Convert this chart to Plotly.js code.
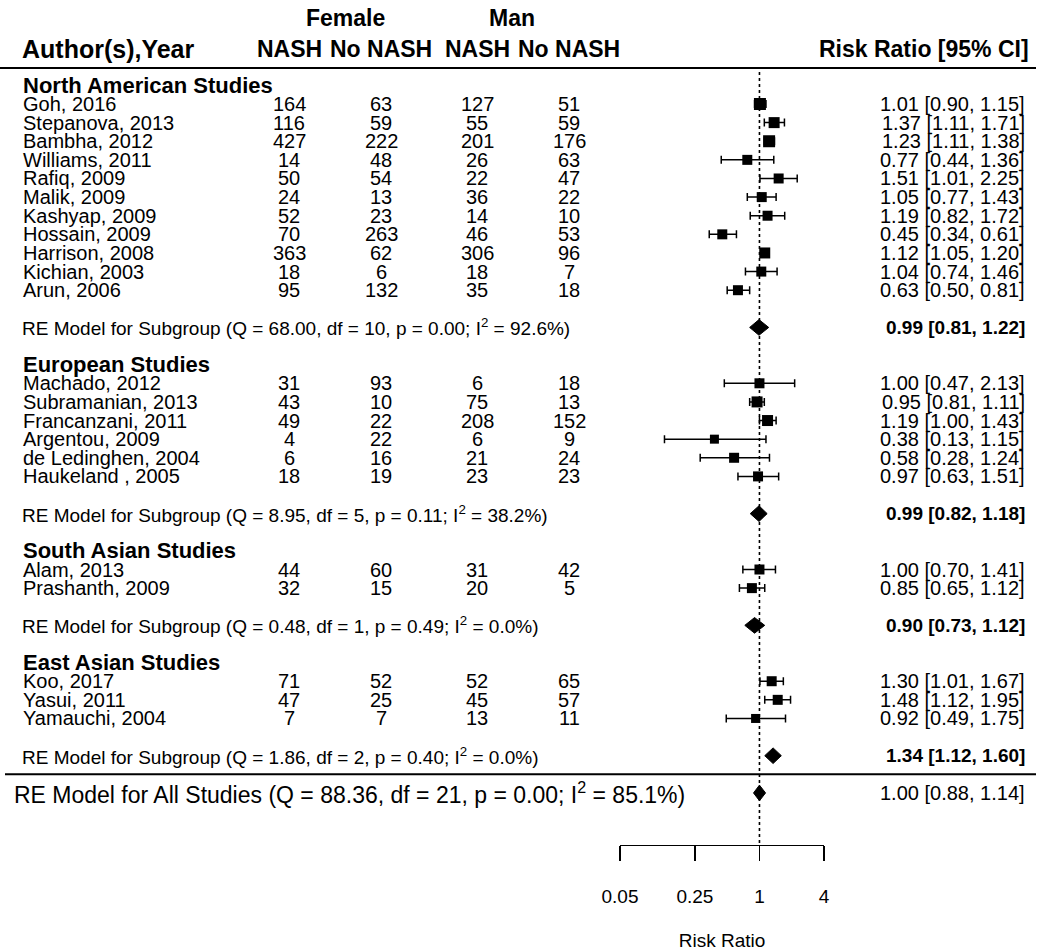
<!DOCTYPE html>
<html>
<head>
<meta charset="utf-8">
<script src="https://cdn.plot.ly/plotly-3.0.1.min.js"></script>
<style>html,body{margin:0;padding:0;background:#fff;}#chart{width:1050px;height:951px;}</style>
</head>
<body>
<div id="chart"></div>
<script>
// ---------- data ----------
const groupNames = ['North American Studies', 'European Studies', 'South Asian Studies', 'East Asian Studies'];
const groupSizes = [11, 6, 2, 3];
const studyNames = ['Goh, 2016', 'Stepanova, 2013', 'Bambha, 2012', 'Williams, 2011', 'Rafiq, 2009', 'Malik, 2009',
  'Kashyap, 2009', 'Hossain, 2009', 'Harrison, 2008', 'Kichian, 2003', 'Arun, 2006',
  'Machado, 2012', 'Subramanian, 2013', 'Francanzani, 2011', 'Argentou, 2009', 'de Ledinghen, 2004', 'Haukeland , 2005',
  'Alam, 2013', 'Prashanth, 2009',
  'Koo, 2017', 'Yasui, 2011', 'Yamauchi, 2004'];
const femaleNash   = [164, 116, 427, 14, 50, 24, 52, 70, 363, 18, 95, 31, 43, 49, 4, 6, 18, 44, 32, 71, 47, 7];
const femaleNoNash = [63, 59, 222, 48, 54, 13, 23, 263, 62, 6, 132, 93, 10, 22, 22, 16, 19, 60, 15, 52, 25, 7];
const manNash      = [127, 55, 201, 26, 22, 36, 14, 46, 306, 18, 35, 6, 75, 208, 6, 21, 23, 31, 20, 52, 45, 13];
const manNoNash    = [51, 59, 176, 63, 47, 22, 10, 53, 96, 7, 18, 18, 13, 152, 9, 24, 23, 42, 5, 65, 57, 11];
const riskRatio = [1.01, 1.37, 1.23, 0.77, 1.51, 1.05, 1.19, 0.45, 1.12, 1.04, 0.63, 1.00, 0.95, 1.19, 0.38, 0.58, 0.97, 1.00, 0.85, 1.30, 1.48, 0.92];
const ciLow     = [0.90, 1.11, 1.11, 0.44, 1.01, 0.77, 0.82, 0.34, 1.05, 0.74, 0.50, 0.47, 0.81, 1.00, 0.13, 0.28, 0.63, 0.70, 0.65, 1.01, 1.12, 0.49];
const ciHigh    = [1.15, 1.71, 1.38, 1.36, 2.25, 1.43, 1.72, 0.61, 1.20, 1.46, 0.81, 2.13, 1.11, 1.43, 1.15, 1.24, 1.51, 1.41, 1.12, 1.67, 1.95, 1.75];
const squareSize = [12, 11, 12, 10, 10, 10, 10, 10, 11, 10, 10, 10, 11, 11, 9, 10, 10, 10, 10, 10, 10, 9];
const subQ   = ['68.00', '8.95', '0.48', '1.86'];
const subDf  = [10, 5, 1, 2];
const subP   = ['0.00', '0.11', '0.49', '0.40'];
const subI2  = ['92.6', '38.2', '0.0', '0.0'];
const subRR  = [0.99, 0.99, 0.90, 1.34];
const subLow = [0.81, 0.82, 0.73, 1.12];
const subHigh = [1.22, 1.18, 1.12, 1.60];
const allQ = '88.36', allDf = 21, allP = '0.00', allI2 = '85.1';
const allRR = 1.00, allLow = 0.88, allHigh = 1.14;
const tickValues = [0.05, 0.25, 1, 4];
const tickLabels = ['0.05', '0.25', '1', '4'];
const refValue = 1;

// ---------- layout helpers ----------
const W = 1050, H = 951;
const rowPx = 18.62, firstRowPx = 104;           // pixel of row 1
const pxToRow = p => 1 + (p - firstRowPx) / rowPx;
const px = x => x / W;
const FONT = 'Liberation Sans, Arial, sans-serif';
const colName = 21, colCounts = [289, 381, 477, 569], colCI = 1027;

const annotations = [];
function txt(x, row, text, opts) {
  annotations.push(Object.assign({
    xref: 'paper', yref: 'y', x: px(x), y: row, text: text, showarrow: false,
    xanchor: 'left', yanchor: 'middle', font: {family: FONT, size: 20, color: '#000'}
  }, opts || {}));
}

// headers
txt(345, pxToRow(18), '<b>Female</b>', {xanchor: 'center', font: {family: FONT, size: 23, color: '#000'}});
txt(512, pxToRow(18), '<b>Man</b>', {xanchor: 'center', font: {family: FONT, size: 23, color: '#000'}});
txt(colName - 1, pxToRow(49), '<b>Author(s),Year</b>', {font: {family: FONT, size: 25, color: '#000'}});
['NASH', 'No NASH', 'NASH', 'No NASH'].forEach((h, i) =>
  txt(colCounts[i], pxToRow(49), '<b>' + h + '</b>', {xanchor: 'center', font: {family: FONT, size: 23, color: '#000'}}));
txt(colCI + 4, pxToRow(49), '<b>Risk Ratio [95% CI]</b>', {xanchor: 'right', font: {family: FONT, size: 23, color: '#000'}});

// rows
const studyRows = [], subRows = [];
let start = 0, idx = 0;
groupNames.forEach((g, gi) => {
  txt(colName, start, '<b>' + g + '</b>', {font: {family: FONT, size: 22, color: '#000'}});
  for (let k = 0; k < groupSizes[gi]; k++) {
    const r = start + 1 + k;
    studyRows.push(r);
    txt(colName, r, studyNames[idx]);
    [femaleNash, femaleNoNash, manNash, manNoNash].forEach((arr, ci) =>
      txt(colCounts[ci], r, String(arr[idx]), {xanchor: 'center'}));
    txt(colCI, r, riskRatio[idx].toFixed(2) + ' [' + ciLow[idx].toFixed(2) + ', ' + ciHigh[idx].toFixed(2) + ']', {xanchor: 'right'});
    idx++;
  }
  const rr = start + groupSizes[gi] + 2;
  subRows.push(rr);
  txt(colName - 1, rr, 'RE Model for Subgroup (Q = ' + subQ[gi] + ', df = ' + subDf[gi] + ', p = ' + subP[gi] +
      '; I<sup>2</sup> = ' + subI2[gi] + '%)', {font: {family: FONT, size: 19, color: '#000'}});
  txt(colCI, rr, '<b>' + subRR[gi].toFixed(2) + ' [' + subLow[gi].toFixed(2) + ', ' + subHigh[gi].toFixed(2) + ']</b>',
      {xanchor: 'right', font: {family: FONT, size: 19, color: '#000'}});
  start = start + groupSizes[gi] + 4;
});
const allRow = start;
txt(12, allRow, 'RE Model for All Studies (Q = ' + allQ + ', df = ' + allDf + ', p = ' + allP + '; I<sup>2</sup> = ' + allI2 + '%)',
    {font: {family: FONT, size: 23, color: '#000'}});
txt(colCI, allRow, allRR.toFixed(2) + ' [' + allLow.toFixed(2) + ', ' + allHigh.toFixed(2) + ']', {xanchor: 'right'});

const axisPx = 845;
const axisRow = pxToRow(axisPx);

// ---------- traces ----------
const traces = [];
// reference line
traces.push({x: [refValue, refValue], y: [pxToRow(72), axisRow], mode: 'lines', type: 'scatter',
  line: {color: '#000', width: 1.6, dash: 'dot'}, hoverinfo: 'skip', showlegend: false});
// studies
traces.push({
  x: riskRatio, y: studyRows, type: 'scatter', mode: 'markers',
  marker: {symbol: 'square', size: squareSize, color: '#000', opacity: 1, line: {width: 0}},
  error_x: {type: 'data', symmetric: false,
    array: riskRatio.map((v, i) => ciHigh[i] - v),
    arrayminus: riskRatio.map((v, i) => v - ciLow[i]),
    color: '#000', thickness: 1.5, width: 4},
  showlegend: false, hoverinfo: 'x+y'
});
// diamonds
const dh = 0.42;
function diamond(est, lo, hi, r) {
  traces.push({x: [lo, est, hi, est, lo], y: [r, r - dh, r, r + dh, r], type: 'scatter', mode: 'lines',
    fill: 'toself', fillcolor: '#000', line: {color: '#000', width: 1}, showlegend: false, hoverinfo: 'skip'});
}
subRR.forEach((v, i) => diamond(v, subLow[i], subHigh[i], subRows[i]));
diamond(allRR, allLow, allHigh, allRow);

// ---------- layout ----------
const layout = {
  width: W, height: H,
  margin: {l: 0, r: 0, t: 0, b: 0},
  paper_bgcolor: '#fff', plot_bgcolor: 'rgba(0,0,0,0)',
  font: {family: FONT, color: '#000'},
  showlegend: false,
  xaxis: {
    type: 'log', domain: [620 / W, 824 / W],
    range: [Math.log10(tickValues[0]), Math.log10(tickValues[tickValues.length - 1])],
    anchor: 'free', position: 1 - axisPx / H,
    showline: true, linecolor: '#000', linewidth: 1.3,
    ticks: 'outside', ticklen: 15, tickwidth: 1.3, tickcolor: '#000',
    tickmode: 'array', tickvals: tickValues, ticktext: tickLabels,
    tickfont: {family: FONT, size: 19, color: '#000'}, ticklabelstandoff: 19,
    showgrid: false, zeroline: false, fixedrange: true,
    title: {text: 'Risk Ratio', font: {family: FONT, size: 19, color: '#000'}, standoff: 28}
  },
  yaxis: {
    domain: [0, 1], range: [pxToRow(H), pxToRow(0)], visible: false, fixedrange: true
  },
  shapes: [
    {type: 'line', xref: 'paper', yref: 'y', x0: 0, x1: px(1036), y0: pxToRow(68), y1: pxToRow(68), line: {color: '#000', width: 2}},
    {type: 'line', xref: 'paper', yref: 'y', x0: px(5), x1: px(1036), y0: allRow - 1, y1: allRow - 1, line: {color: '#000', width: 2}}
  ],
  annotations: annotations
};

Plotly.newPlot('chart', traces, layout, {staticPlot: true, displayModeBar: false});
</script>
</body>
</html>
